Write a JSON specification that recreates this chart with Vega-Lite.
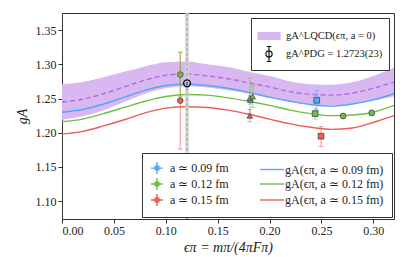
{
  "$schema": "https://vega.github.io/schema/vega-lite/v6.json",
  "width": 332,
  "height": 206,
  "autosize": {"type": "none"},
  "padding": {"left": 62, "top": 13, "right": 21, "bottom": 38},
  "background": "white",
  "config": {
    "view": {"stroke": "#333", "strokeWidth": 1},
    "axis": {
      "labelFont": "Liberation Serif", "labelFontSize": 12, "labelColor": "#222",
      "titleFont": "Liberation Serif", "titleFontSize": 14, "titleFontWeight": "normal", "titleColor": "#222",
      "grid": false, "domainColor": "#333", "tickColor": "#333", "tickSize": 4, "labelPadding": 2
    }
  },
  "datasets": {
    "band": [
      {"x": 0.00, "lo": 1.219, "mid": 1.245, "hi": 1.271, "top": "gA^LQCD(ϵπ, a = 0)"},
      {"x": 0.02, "lo": 1.224, "mid": 1.249, "hi": 1.274, "top": "gA^LQCD(ϵπ, a = 0)"},
      {"x": 0.04, "lo": 1.233, "mid": 1.257, "hi": 1.281, "top": "gA^LQCD(ϵπ, a = 0)"},
      {"x": 0.06, "lo": 1.245, "mid": 1.267, "hi": 1.289, "top": "gA^LQCD(ϵπ, a = 0)"},
      {"x": 0.08, "lo": 1.257, "mid": 1.277, "hi": 1.297, "top": "gA^LQCD(ϵπ, a = 0)"},
      {"x": 0.10, "lo": 1.265, "mid": 1.284, "hi": 1.303, "top": "gA^LQCD(ϵπ, a = 0)"},
      {"x": 0.12, "lo": 1.268, "mid": 1.286, "hi": 1.304, "top": "gA^LQCD(ϵπ, a = 0)"},
      {"x": 0.14, "lo": 1.266, "mid": 1.283, "hi": 1.300, "top": "gA^LQCD(ϵπ, a = 0)"},
      {"x": 0.16, "lo": 1.262, "mid": 1.279, "hi": 1.296, "top": "gA^LQCD(ϵπ, a = 0)"},
      {"x": 0.18, "lo": 1.257, "mid": 1.273, "hi": 1.289, "top": "gA^LQCD(ϵπ, a = 0)"},
      {"x": 0.20, "lo": 1.251, "mid": 1.267, "hi": 1.283, "top": "gA^LQCD(ϵπ, a = 0)"},
      {"x": 0.22, "lo": 1.245, "mid": 1.260, "hi": 1.275, "top": "gA^LQCD(ϵπ, a = 0)"},
      {"x": 0.24, "lo": 1.241, "mid": 1.256, "hi": 1.271, "top": "gA^LQCD(ϵπ, a = 0)"},
      {"x": 0.26, "lo": 1.240, "mid": 1.255, "hi": 1.270, "top": "gA^LQCD(ϵπ, a = 0)"},
      {"x": 0.28, "lo": 1.242, "mid": 1.258, "hi": 1.274, "top": "gA^LQCD(ϵπ, a = 0)"},
      {"x": 0.30, "lo": 1.247, "mid": 1.265, "hi": 1.283, "top": "gA^LQCD(ϵπ, a = 0)"},
      {"x": 0.32, "lo": 1.253, "mid": 1.274, "hi": 1.295, "top": "gA^LQCD(ϵπ, a = 0)"}
    ],
    "curves": [
      {"x": 0.00, "y": 1.230, "s": "gA(ϵπ, a ≃ 0.09 fm)"},
      {"x": 0.02, "y": 1.234, "s": "gA(ϵπ, a ≃ 0.09 fm)"},
      {"x": 0.04, "y": 1.242, "s": "gA(ϵπ, a ≃ 0.09 fm)"},
      {"x": 0.06, "y": 1.252, "s": "gA(ϵπ, a ≃ 0.09 fm)"},
      {"x": 0.08, "y": 1.262, "s": "gA(ϵπ, a ≃ 0.09 fm)"},
      {"x": 0.10, "y": 1.269, "s": "gA(ϵπ, a ≃ 0.09 fm)"},
      {"x": 0.12, "y": 1.271, "s": "gA(ϵπ, a ≃ 0.09 fm)"},
      {"x": 0.14, "y": 1.269, "s": "gA(ϵπ, a ≃ 0.09 fm)"},
      {"x": 0.16, "y": 1.265, "s": "gA(ϵπ, a ≃ 0.09 fm)"},
      {"x": 0.18, "y": 1.259, "s": "gA(ϵπ, a ≃ 0.09 fm)"},
      {"x": 0.20, "y": 1.252, "s": "gA(ϵπ, a ≃ 0.09 fm)"},
      {"x": 0.22, "y": 1.246, "s": "gA(ϵπ, a ≃ 0.09 fm)"},
      {"x": 0.24, "y": 1.241, "s": "gA(ϵπ, a ≃ 0.09 fm)"},
      {"x": 0.26, "y": 1.239, "s": "gA(ϵπ, a ≃ 0.09 fm)"},
      {"x": 0.28, "y": 1.242, "s": "gA(ϵπ, a ≃ 0.09 fm)"},
      {"x": 0.30, "y": 1.248, "s": "gA(ϵπ, a ≃ 0.09 fm)"},
      {"x": 0.32, "y": 1.257, "s": "gA(ϵπ, a ≃ 0.09 fm)"},
      {"x": 0.00, "y": 1.216, "s": "gA(ϵπ, a ≃ 0.12 fm)"},
      {"x": 0.02, "y": 1.220, "s": "gA(ϵπ, a ≃ 0.12 fm)"},
      {"x": 0.04, "y": 1.228, "s": "gA(ϵπ, a ≃ 0.12 fm)"},
      {"x": 0.06, "y": 1.237, "s": "gA(ϵπ, a ≃ 0.12 fm)"},
      {"x": 0.08, "y": 1.246, "s": "gA(ϵπ, a ≃ 0.12 fm)"},
      {"x": 0.10, "y": 1.253, "s": "gA(ϵπ, a ≃ 0.12 fm)"},
      {"x": 0.12, "y": 1.256, "s": "gA(ϵπ, a ≃ 0.12 fm)"},
      {"x": 0.14, "y": 1.255, "s": "gA(ϵπ, a ≃ 0.12 fm)"},
      {"x": 0.16, "y": 1.251, "s": "gA(ϵπ, a ≃ 0.12 fm)"},
      {"x": 0.18, "y": 1.246, "s": "gA(ϵπ, a ≃ 0.12 fm)"},
      {"x": 0.20, "y": 1.240, "s": "gA(ϵπ, a ≃ 0.12 fm)"},
      {"x": 0.22, "y": 1.233, "s": "gA(ϵπ, a ≃ 0.12 fm)"},
      {"x": 0.24, "y": 1.228, "s": "gA(ϵπ, a ≃ 0.12 fm)"},
      {"x": 0.26, "y": 1.225, "s": "gA(ϵπ, a ≃ 0.12 fm)"},
      {"x": 0.28, "y": 1.226, "s": "gA(ϵπ, a ≃ 0.12 fm)"},
      {"x": 0.30, "y": 1.230, "s": "gA(ϵπ, a ≃ 0.12 fm)"},
      {"x": 0.32, "y": 1.240, "s": "gA(ϵπ, a ≃ 0.12 fm)"},
      {"x": 0.00, "y": 1.198, "s": "gA(ϵπ, a ≃ 0.15 fm)"},
      {"x": 0.02, "y": 1.202, "s": "gA(ϵπ, a ≃ 0.15 fm)"},
      {"x": 0.04, "y": 1.210, "s": "gA(ϵπ, a ≃ 0.15 fm)"},
      {"x": 0.06, "y": 1.219, "s": "gA(ϵπ, a ≃ 0.15 fm)"},
      {"x": 0.08, "y": 1.229, "s": "gA(ϵπ, a ≃ 0.15 fm)"},
      {"x": 0.10, "y": 1.236, "s": "gA(ϵπ, a ≃ 0.15 fm)"},
      {"x": 0.12, "y": 1.238, "s": "gA(ϵπ, a ≃ 0.15 fm)"},
      {"x": 0.14, "y": 1.237, "s": "gA(ϵπ, a ≃ 0.15 fm)"},
      {"x": 0.16, "y": 1.233, "s": "gA(ϵπ, a ≃ 0.15 fm)"},
      {"x": 0.18, "y": 1.227, "s": "gA(ϵπ, a ≃ 0.15 fm)"},
      {"x": 0.20, "y": 1.220, "s": "gA(ϵπ, a ≃ 0.15 fm)"},
      {"x": 0.22, "y": 1.213, "s": "gA(ϵπ, a ≃ 0.15 fm)"},
      {"x": 0.24, "y": 1.208, "s": "gA(ϵπ, a ≃ 0.15 fm)"},
      {"x": 0.26, "y": 1.205, "s": "gA(ϵπ, a ≃ 0.15 fm)"},
      {"x": 0.28, "y": 1.207, "s": "gA(ϵπ, a ≃ 0.15 fm)"},
      {"x": 0.30, "y": 1.215, "s": "gA(ϵπ, a ≃ 0.15 fm)"},
      {"x": 0.32, "y": 1.225, "s": "gA(ϵπ, a ≃ 0.15 fm)"}
    ],
    "pts": [
      {"x": 0.1140, "y": 1.247, "lo": 1.176, "hi": 1.318, "s": "a ≃ 0.15 fm", "m": "m130"},
      {"x": 0.1140, "y": 1.285, "lo": 1.253, "hi": 1.317, "s": "a ≃ 0.12 fm", "m": "m130"},
      {"x": 0.1810, "y": 1.225, "lo": 1.216, "hi": 1.234, "s": "a ≃ 0.15 fm", "m": "m220"},
      {"x": 0.1816, "y": 1.248, "lo": 1.242, "hi": 1.254, "s": "a ≃ 0.09 fm", "m": "m220"},
      {"x": 0.1812, "y": 1.251, "lo": 1.222, "hi": 1.280, "s": "a ≃ 0.12 fm", "m": "m220"},
      {"x": 0.1838, "y": 1.253, "lo": 1.237, "hi": 1.269, "s": "a ≃ 0.12 fm", "m": "m220"},
      {"x": 0.2455, "y": 1.2475, "lo": 1.233, "hi": 1.262, "s": "a ≃ 0.09 fm", "m": "m310"},
      {"x": 0.2440, "y": 1.228, "lo": 1.220, "hi": 1.236, "s": "a ≃ 0.12 fm", "m": "m310"},
      {"x": 0.2497, "y": 1.195, "lo": 1.180, "hi": 1.209, "s": "a ≃ 0.15 fm", "m": "m310"},
      {"x": 0.2710, "y": 1.2245, "lo": 1.221, "hi": 1.228, "s": "a ≃ 0.12 fm", "m": "m350"},
      {"x": 0.2985, "y": 1.229, "lo": 1.225, "hi": 1.233, "s": "a ≃ 0.12 fm", "m": "m400"}
    ],
    "phys": [{"x": 0.1205, "x1": 0.1186, "x2": 0.1224}],
    "pdg": [{"x": 0.1205, "y": 1.2723, "lo": 1.2700, "hi": 1.2746}]
  },
  "layer": [
    {
      "data": {"name": "band"},
      "mark": {"type": "area", "interpolate": "monotone"},
      "encoding": {
        "x": {"field": "x", "type": "quantitative", "scale": {"domain": [0, 0.32], "nice": false, "zero": false},
          "axis": {"values": [0, 0.05, 0.1, 0.15, 0.2, 0.25, 0.3], "format": ".2f", "title": "ϵπ = mπ/(4πFπ)", "titleFontStyle": "italic", "titlePadding": 4}},
        "y": {"field": "lo", "type": "quantitative", "scale": {"domain": [1.074, 1.375], "nice": false, "zero": false},
          "axis": {"values": [1.1, 1.15, 1.2, 1.25, 1.3, 1.35], "format": ".2f", "title": "gA", "titleFontStyle": "italic", "titlePadding": 6}},
        "y2": {"field": "hi"},
        "fill": {"field": "top", "type": "nominal",
          "scale": {"domain": ["gA^LQCD(ϵπ, a = 0)", "gA^PDG = 1.2723(23)"], "range": ["#d9b8f2", "transparent"]},
          "legend": {
            "orient": "top-right", "offset": 5, "title": null, "fillColor": "white", "strokeColor": "#333",
            "padding": 6, "labelFont": "Liberation Serif", "labelFontSize": 10.5, "labelColor": "#222",
            "symbolSize": 484, "rowPadding": -5, "labelOffset": 5, "symbolOpacity": 1,
            "encode": {"symbols": {"update": {
              "shape": {"signal": "datum.index === 1 ? 'M0,-1V1M-0.3,-1H0.3M-0.3,1H0.3M0.42,0A0.42,0.42 0 1,1 -0.42,0A0.42,0.42 0 1,1 0.42,0' : 'M-1,-0.32H1V0.32H-1Z'"},
              "size": {"signal": "datum.index === 1 ? 225 : 484"},
              "fill": {"signal": "datum.index === 1 ? 'transparent' : '#d9b8f2'"},
              "stroke": {"signal": "datum.index === 1 ? '#111' : '#d9b8f2'"},
              "strokeWidth": {"value": 1.2}
            }}}
          }}
      }
    },
    {
      "data": {"name": "band"},
      "mark": {"type": "line", "interpolate": "monotone", "color": "#b36ae2", "strokeWidth": 1.4, "strokeDash": [5, 3]},
      "encoding": {
        "x": {"field": "x", "type": "quantitative"},
        "y": {"field": "mid", "type": "quantitative"}
      }
    },
    {
      "data": {"name": "curves"},
      "mark": {"type": "line", "interpolate": "monotone", "strokeWidth": 1.4},
      "encoding": {
        "x": {"field": "x", "type": "quantitative"},
        "y": {"field": "y", "type": "quantitative"},
        "color": {"field": "s", "type": "nominal",
          "scale": {"domain": ["a ≃ 0.09 fm", "a ≃ 0.12 fm", "a ≃ 0.15 fm", "gA(ϵπ, a ≃ 0.09 fm)", "gA(ϵπ, a ≃ 0.12 fm)", "gA(ϵπ, a ≃ 0.15 fm)"],
            "range": ["#51a7f9", "#70bf41", "#ec5d57", "#51a7f9", "#70bf41", "#ec5d57"]},
          "legend": {
            "orient": "bottom-right", "offset": 2, "columns": 2, "title": null, "fillColor": "white", "strokeColor": "#333",
            "padding": 8, "labelFont": "Liberation Serif", "labelFontSize": 12, "labelColor": "#222",
            "symbolSize": 576, "rowPadding": -7, "columnPadding": 28, "labelOffset": 6, "symbolOpacity": 1,
            "encode": {"symbols": {"update": {
              "shape": {"signal": "datum.index >= 3 ? 'stroke' : 'M-1,0H-0.3M0.3,0H1M0,-1V-0.3M0,0.3V1M-0.3,-0.3H0.3V0.3H-0.3Z'"},
              "size": {"signal": "datum.index >= 3 ? 576 : 144"},
              "stroke": {"signal": "scale('color', datum.value)"},
              "fill": {"signal": "datum.index >= 3 ? 'transparent' : scale('color', datum.value)"},
              "strokeWidth": {"value": 1.4}
            }}}
          }}
      }
    },
    {
      "data": {"name": "phys"},
      "mark": {"type": "rect", "color": "#d4d4d4", "opacity": 0.85},
      "encoding": {
        "x": {"field": "x1", "type": "quantitative"},
        "x2": {"field": "x2"}
      }
    },
    {
      "data": {"name": "phys"},
      "mark": {"type": "rule", "color": "#a0a0a0", "strokeWidth": 1, "strokeDash": [3, 2]},
      "encoding": {
        "x": {"field": "x", "type": "quantitative"}
      }
    },
    {
      "data": {"name": "pts"},
      "mark": {"type": "rule", "strokeWidth": 1.2, "opacity": 0.55},
      "encoding": {
        "x": {"field": "x", "type": "quantitative"},
        "y": {"field": "lo", "type": "quantitative"},
        "y2": {"field": "hi"},
        "color": {"field": "s", "type": "nominal"}
      }
    },
    {
      "data": {"name": "pts"},
      "mark": {"type": "tick", "orient": "horizontal", "size": 5, "thickness": 1, "opacity": 0.55},
      "encoding": {
        "x": {"field": "x", "type": "quantitative"},
        "y": {"field": "lo", "type": "quantitative"},
        "color": {"field": "s", "type": "nominal"}
      }
    },
    {
      "data": {"name": "pts"},
      "mark": {"type": "tick", "orient": "horizontal", "size": 5, "thickness": 1, "opacity": 0.55},
      "encoding": {
        "x": {"field": "x", "type": "quantitative"},
        "y": {"field": "hi", "type": "quantitative"},
        "color": {"field": "s", "type": "nominal"}
      }
    },
    {
      "data": {"name": "pts"},
      "mark": {"type": "point", "filled": true, "opacity": 1, "stroke": "#3a3a3a", "strokeWidth": 0.7},
      "encoding": {
        "x": {"field": "x", "type": "quantitative"},
        "y": {"field": "y", "type": "quantitative"},
        "color": {"field": "s", "type": "nominal"},
        "shape": {"field": "m", "type": "nominal", "scale": {"domain": ["m130", "m220", "m310", "m350", "m400"], "range": ["circle", "triangle-up", "square", "circle", "circle"]}, "legend": null},
        "size": {"field": "m", "type": "nominal", "scale": {"domain": ["m130", "m220", "m310", "m350", "m400"], "range": [32, 34, 42, 18, 18]}, "legend": null}
      }
    },
    {
      "data": {"name": "pdg"},
      "mark": {"type": "rule", "color": "#111", "strokeWidth": 1},
      "encoding": {
        "x": {"field": "x", "type": "quantitative"},
        "y": {"field": "lo", "type": "quantitative"},
        "y2": {"field": "hi"}
      }
    },
    {
      "data": {"name": "pdg"},
      "mark": {"type": "point", "filled": false, "color": "#111", "strokeWidth": 1.3, "size": 48, "shape": "circle", "opacity": 1},
      "encoding": {
        "x": {"field": "x", "type": "quantitative"},
        "y": {"field": "y", "type": "quantitative"}
      }
    }
  ]
}
